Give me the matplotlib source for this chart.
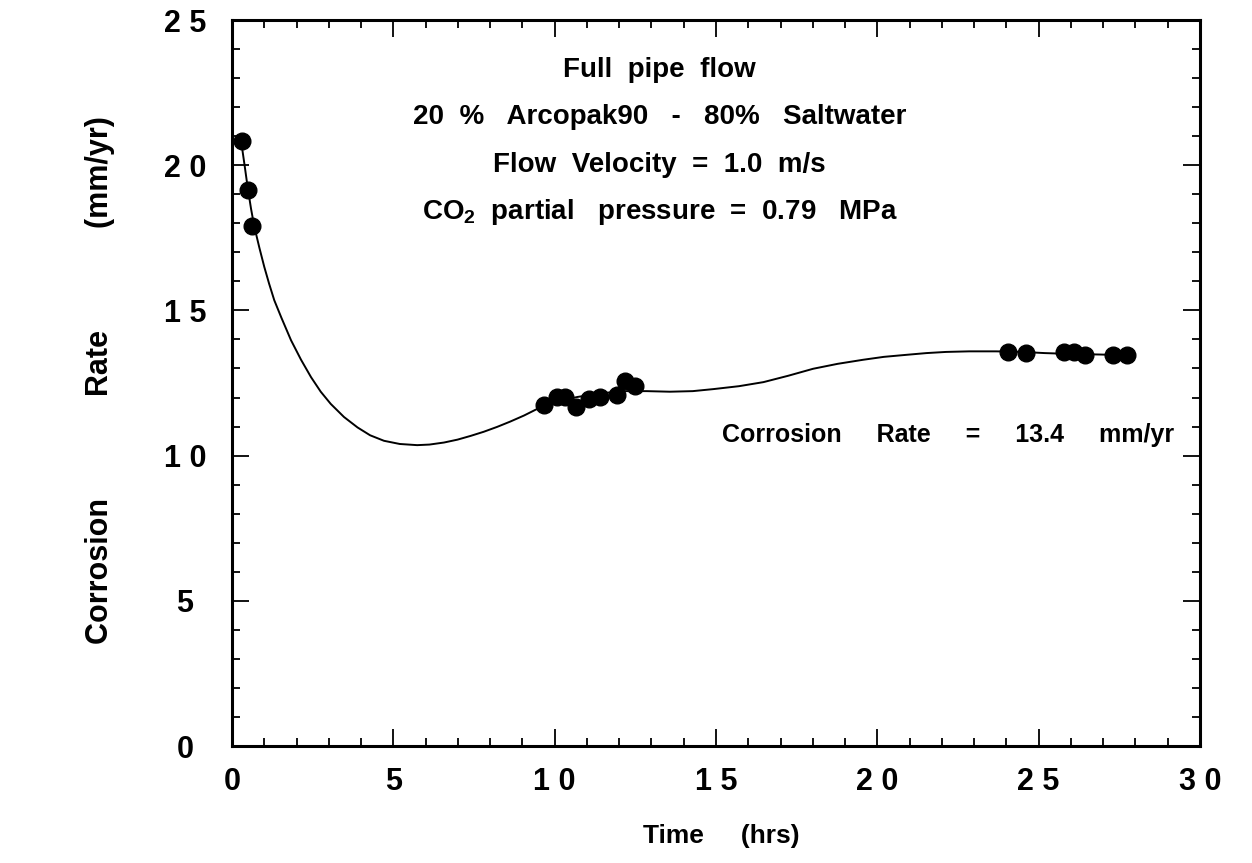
import matplotlib
matplotlib.use("Agg")
import matplotlib.pyplot as plt
from matplotlib.ticker import MultipleLocator

# -------------------------------------------------------------
# Data
# -------------------------------------------------------------
time_pts = [0.30, 0.49, 0.61,
            9.66, 10.06, 10.33, 10.66, 11.06, 11.41, 11.94, 12.17, 12.50,
            24.05, 24.60, 25.80, 26.10, 26.45, 27.30, 27.75]
rate_pts = [20.83, 19.16, 17.90,
            11.75, 12.03, 12.03, 11.66, 11.95, 12.03, 12.09, 12.56, 12.38,
            13.57, 13.53, 13.57, 13.57, 13.45, 13.45, 13.45]

# fitted curve, sampled along the drawn line
curve_t = [0.26, 0.39, 0.49, 0.59, 0.69, 0.85, 1.0, 1.15, 1.31, 1.53, 1.83, 2.14,
           2.45, 2.75, 3.06, 3.47, 3.89, 4.28, 4.71, 5.2, 5.74, 6.12, 6.57, 6.99,
           7.4, 7.8, 8.22, 8.62, 9.05, 9.66, 10.2, 10.71, 11.22, 11.73, 12.24,
           12.85, 13.57, 14.28, 14.92, 15.71, 16.47, 17.24, 18.01, 18.77, 19.56,
           20.2, 20.9, 21.52, 22.13, 22.85, 23.68, 24.48, 25.19, 26.01, 26.93, 27.8]
curve_r = [21.0, 20.0, 19.2, 18.5, 17.89, 17.15, 16.5, 15.92, 15.35, 14.75, 13.97, 13.3,
           12.7, 12.2, 11.78, 11.33, 10.97, 10.7, 10.51, 10.4, 10.36, 10.38, 10.45, 10.55,
           10.68, 10.82, 10.99, 11.17, 11.38, 11.72, 11.9, 12.02, 12.11, 12.18, 12.22,
           12.22, 12.2, 12.22, 12.29, 12.39, 12.53, 12.75, 12.99, 13.16, 13.3,
           13.4, 13.47, 13.53, 13.57, 13.59, 13.59, 13.57, 13.53, 13.5, 13.48, 13.45]

x_ticks = [0, 5, 10, 15, 20, 25, 30]
x_tick_labels = ["0", "5", "1 0", "1 5", "2 0", "2 5", "3 0"]
y_ticks = [0, 5, 10, 15, 20, 25]
y_tick_labels = ["0", "5", "1 0", "1 5", "2 0", "2 5"]

info_lines = ["Full  pipe  flow",
              "20  %   Arcopak90   -   80%   Saltwater",
              "Flow  Velocity  =  1.0  m/s",
              "CO$_2$  partial   pressure  =  0.79   MPa"]
rate_note = "Corrosion     Rate     =     13.4     mm/yr"

# -------------------------------------------------------------
# Figure
# -------------------------------------------------------------
plt.rcParams['font.family'] = ['Liberation Sans', 'DejaVu Sans']
plt.rcParams['font.weight'] = 'bold'
plt.rcParams['mathtext.default'] = 'regular'

W, H = 1252, 863
fig = plt.figure(figsize=(W / 100, H / 100), dpi=100)
left, right, top, bottom = 232, 1200, 20, 746
ax = fig.add_axes([left / W, 1 - bottom / H, (right - left) / W, (bottom - top) / H])

ax.plot(curve_t, curve_r, color='black', lw=1.4, zorder=2)
ax.plot(time_pts, rate_pts, 'o', color='black', ms=12, zorder=3)

ax.set_xlim(0, 30)
ax.set_ylim(0, 25)
ax.set_xticks(x_ticks)
ax.set_xticklabels(x_tick_labels)
ax.set_yticks(y_ticks)
ax.set_yticklabels(y_tick_labels, ha='center')
ax.xaxis.set_minor_locator(MultipleLocator(1))
ax.yaxis.set_minor_locator(MultipleLocator(1))

ax.tick_params(which='both', direction='in', top=True, right=True, width=1.3)
ax.tick_params(which='major', length=12)
ax.tick_params(which='minor', length=6)
ax.tick_params(axis='x', which='major', pad=15, labelsize=22)
ax.tick_params(axis='y', which='major', pad=34, labelsize=22)
for sp in ax.spines.values():
    sp.set_linewidth(2.2)

ax.set_xlabel("Time     (hrs)", fontsize=19, fontweight='bold')
ax.set_ylabel("Corrosion            Rate            (mm/yr)", fontsize=22,
              fontweight='bold')
ax.xaxis.set_label_coords(0.505, -0.107)
ax.yaxis.set_label_coords(-0.121, 0.504)

for i, line in enumerate(info_lines):
    ax.text(13.25, 23.28 - i * 1.63, line, fontsize=20, fontweight='bold',
            ha='center', va='center')
ax.text(22.2, 10.7, rate_note, fontsize=18, fontweight='bold',
        ha='center', va='center')

fig.savefig("out.png", dpi=100)
